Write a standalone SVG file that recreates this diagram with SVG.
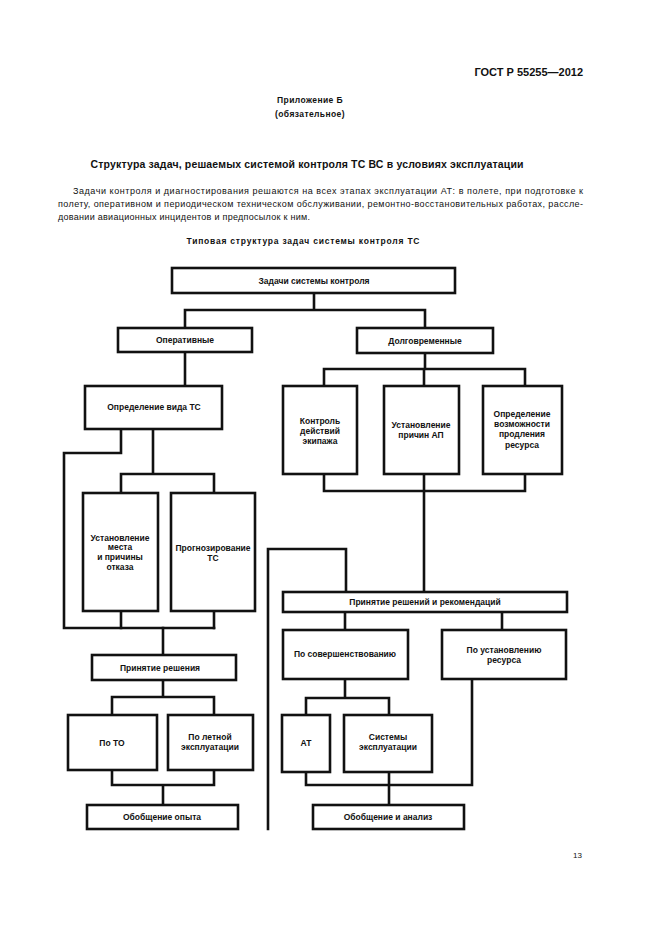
<svg xmlns="http://www.w3.org/2000/svg" width="661" height="936" viewBox="0 0 661 936">
<style>
.bg{fill:#fff}
.box{fill:#fff;stroke:#111;stroke-width:2.6}
.ln{fill:none;stroke:#111;stroke-width:2.6;stroke-linejoin:miter;stroke-linecap:square}
text{font-family:"Liberation Sans",Arial,sans-serif;fill:#111}
.lb{font-size:8.5px;font-weight:bold;text-anchor:middle}
.hd{font-weight:bold;text-anchor:middle}
.p{font-size:9px}
</style>
<rect class="bg" x="0" y="0" width="661" height="936"/>

<g id="header">
<text x="583" y="76" font-size="11" font-weight="bold" text-anchor="end">ГОСТ Р 55255—2012</text>
<text class="hd" x="310" y="103" font-size="8.5" letter-spacing="0.4">Приложение Б</text>
<text class="hd" x="310" y="117" font-size="8.5" letter-spacing="0.4">(обязательное)</text>
<text class="hd" x="307" y="168" font-size="10.5" textLength="433" lengthAdjust="spacing">Структура задач, решаемых системой контроля ТС ВС в условиях эксплуатации</text>
<text class="p" x="73" y="194" textLength="510" lengthAdjust="spacing">Задачи контроля и диагностирования решаются на всех этапах эксплуатации АТ: в полете, при подготовке к</text>
<text class="p" x="58" y="207" textLength="525" lengthAdjust="spacing">полету, оперативном и периодическом техническом обслуживании, ремонтно-восстановительных работах, рассле-</text>
<text class="p" x="58" y="220" textLength="252" lengthAdjust="spacing">довании авиационных инцидентов и предпосылок к ним.</text>
<text class="hd" x="303" y="244" font-size="8.5" textLength="233" lengthAdjust="spacing">Типовая структура задач системы контроля ТС</text>
<text x="582" y="858" font-size="8" text-anchor="end">13</text>
</g>

<g id="connectors">
<path class="ln" d="M314 293V310M185 310H425M185 310V328M425 310V328"/>
<path class="ln" d="M185 352V386"/>
<path class="ln" d="M121 429V453H64V628H214M153 429V474M121 474H214M121 474V493M214 474V493"/>
<path class="ln" d="M121 611V628M214 611V628M163 628V655"/>
<path class="ln" d="M163 680V697M112 697H214M112 697V715M214 697V715"/>
<path class="ln" d="M112 770V785H214M214 770V785M163 785V805"/>
<path class="ln" d="M425 353V369M324 369H525M324 369V386M424 369V386M525 369V386"/>
<path class="ln" d="M324 474V491H525M525 474V491M424 474V592"/>
<path class="ln" d="M346 592V549H268V829"/>
<path class="ln" d="M345 612V630M502 612V630"/>
<path class="ln" d="M345 679V698M306 698H389M306 698V715M389 698V715"/>
<path class="ln" d="M306 772V785H472M389 772V805M472 679V785"/>
</g>

<g id="n-root"><rect class="box" x="172" y="268" width="283" height="25"/><text class="lb" x="314" y="284">Задачи системы контроля</text></g>
<g id="n-oper"><rect class="box" x="118" y="328" width="134" height="24"/><text class="lb" x="185" y="343">Оперативные</text></g>
<g id="n-long"><rect class="box" x="357" y="328" width="136" height="25"/><text class="lb" x="425" y="344">Долговременные</text></g>
<g id="n-vid"><rect class="box" x="85" y="386" width="137" height="43"/><text class="lb" x="154" y="410">Определение вида ТС</text></g>
<g id="n-kontr"><rect class="box" x="283" y="386" width="74" height="88"/><text class="lb" x="320" y="424">Контроль</text><text class="lb" x="320" y="434">действий</text><text class="lb" x="320" y="444">экипажа</text></g>
<g id="n-ap"><rect class="box" x="384" y="386" width="75" height="88"/><text class="lb" x="421" y="428">Установление</text><text class="lb" x="421" y="438">причин АП</text></g>
<g id="n-res"><rect class="box" x="483" y="386" width="79" height="88"/><text class="lb" x="522" y="417">Определение</text><text class="lb" x="522" y="427">возможности</text><text class="lb" x="522" y="437">продления</text><text class="lb" x="522" y="448">ресурса</text></g>
<g id="n-mesto"><rect class="box" x="83" y="493" width="75" height="118"/><text class="lb" x="120" y="541">Установление</text><text class="lb" x="120" y="550">места</text><text class="lb" x="120" y="560">и причины</text><text class="lb" x="120" y="570">отказа</text></g>
<g id="n-progn"><rect class="box" x="171" y="493" width="84" height="118"/><text class="lb" x="213" y="551">Прогнозирование</text><text class="lb" x="213" y="561">ТС</text></g>
<g id="n-resh"><rect class="box" x="92" y="655" width="144" height="25"/><text class="lb" x="160" y="671">Принятие решения</text></g>
<g id="n-to"><rect class="box" x="68" y="715" width="89" height="55"/><text class="lb" x="112" y="746">По ТО</text></g>
<g id="n-let"><rect class="box" x="168" y="715" width="85" height="55"/><text class="lb" x="210" y="740">По летной</text><text class="lb" x="210" y="750">эксплуатации</text></g>
<g id="n-opyt"><rect class="box" x="87" y="805" width="151" height="24"/><text class="lb" x="162" y="820">Обобщение опыта</text></g>
<g id="n-rek"><rect class="box" x="283" y="592" width="284" height="20"/><text class="lb" x="425" y="605">Принятие решений и рекомендаций</text></g>
<g id="n-sov"><rect class="box" x="283" y="630" width="125" height="49"/><text class="lb" x="345" y="657">По совершенствованию</text></g>
<g id="n-ust"><rect class="box" x="442" y="630" width="124" height="49"/><text class="lb" x="504" y="653">По установлению</text><text class="lb" x="504" y="663">ресурса</text></g>
<g id="n-at"><rect class="box" x="282" y="715" width="48" height="57"/><text class="lb" x="306" y="746">АТ</text></g>
<g id="n-sys"><rect class="box" x="344" y="715" width="88" height="57"/><text class="lb" x="388" y="740">Системы</text><text class="lb" x="388" y="750">эксплуатации</text></g>
<g id="n-anal"><rect class="box" x="313" y="805" width="151" height="24"/><text class="lb" x="388" y="820">Обобщение и анализ</text></g>
</svg>
